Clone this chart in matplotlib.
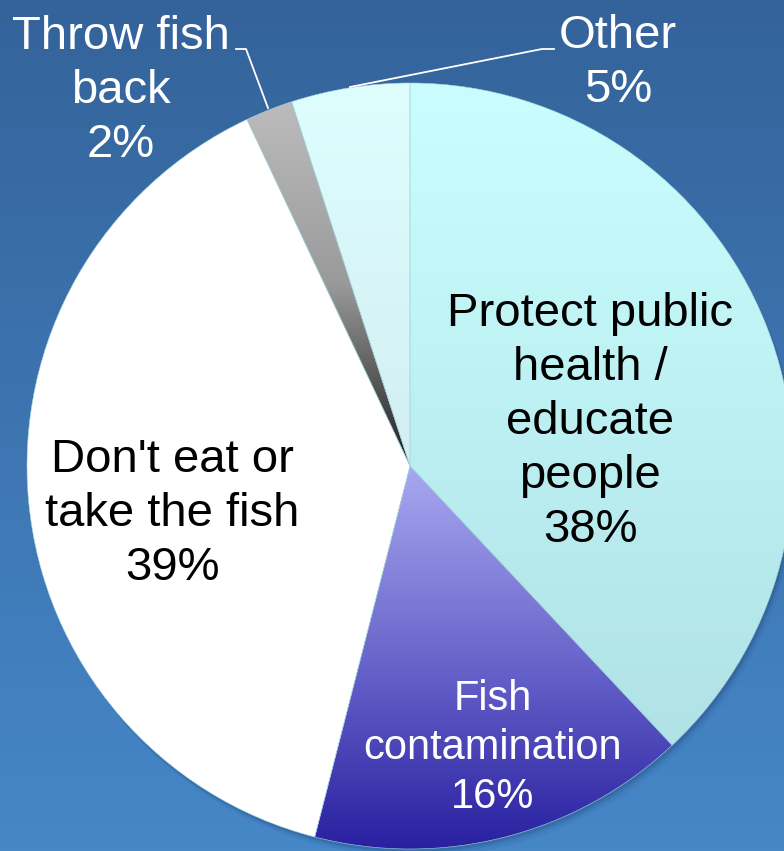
import numpy as np
import matplotlib.pyplot as plt
from matplotlib.colors import to_rgb
from matplotlib.patches import Circle

plt.rcParams['font.family'] = ['Liberation Sans', 'DejaVu Sans']

# slices, clockwise from 12 o'clock
labels = ["Protect public\nhealth /\neducate\npeople", "Fish\ncontamination",
          "Don't eat or\ntake the fish", "Throw fish\nback", "Other"]
values = [38, 16, 39, 2, 5]
top_colors = ["#cafefe", "#a8a8f0", "#ffffff", "#bcbcbc", "#defefe"]
mid_colors = ["#bdf0f2", "#6a66cc", "#ffffff", "#9a9a9a", "#d8f6f8"]
bottom_colors = ["#b0e2e6", "#2820a0", "#ffffff", "#1e1e1e", "#d2eef0"]

W, H = 784, 851
cx, cy, R = 410, H - 466, 383


def vgrad(c_bottom, c_mid, c_top, n=256):
    b, m, t = (np.array(to_rgb(c)) for c in (c_bottom, c_mid, c_top))
    f = np.linspace(0, 1, n)[:, None]
    lo = b + (m - b) * np.clip(f * 2, 0, 1)
    hi = m + (t - m) * np.clip(f * 2 - 1, 0, 1)
    return np.where(f < 0.5, lo, hi)[:, None, :]


fig = plt.figure(figsize=(W / 100, H / 100), dpi=100)
ax = fig.add_axes([0, 0, 1, 1])
ax.set_xlim(0, W)
ax.set_ylim(0, H)
ax.axis('off')

# background
ax.imshow(vgrad("#4687c8", "#3d75b1", "#34639a"), extent=(0, W, 0, H),
          origin='lower', aspect='auto', zorder=0)

# soft shadow under the pie, lower right
for k, a in [(8, 0.08), (5, 0.12), (3, 0.18)]:
    ax.add_patch(Circle((cx + k * 0.6, cy - k), R, color="#1c3f70", alpha=a,
                        lw=0, zorder=1))

wedges, _ = ax.pie(values, center=(cx, cy), radius=R, startangle=90,
                   counterclock=False, colors=bottom_colors,
                   wedgeprops=dict(edgecolor="#a6d6de", linewidth=0.4))
ax.set_xlim(0, W)
ax.set_ylim(0, H)

for w, ct, cm, cb in zip(wedges, top_colors, mid_colors, bottom_colors):
    bb = w.get_path().get_extents()
    im = ax.imshow(vgrad(cb, cm, ct), extent=(bb.x0, bb.x1, bb.y0, bb.y1),
                   origin='lower', aspect='auto', zorder=2)
    im.set_clip_path(w)
    w.set_facecolor('none')
    w.set_zorder(3)

# percentages
pct = [f"{v}%" for v in values]

# labels inside the pie
ax.text(590, H - 422, labels[0] + "\n" + pct[0], ha='center', va='center',
        fontsize=34, color='black', linespacing=1.3, zorder=5)
ax.text(493, H - 748, labels[1] + "\n" + pct[1], ha='center', va='center',
        fontsize=30, color='white', linespacing=1.3, zorder=5)
ax.text(172, H - 514, labels[2] + "\n" + pct[2], ha='center', va='center',
        fontsize=34, color='black', linespacing=1.3, zorder=5)

# labels outside with leader lines
ax.text(121, H - 91, labels[3] + "\n" + pct[3], ha='center', va='center',
        fontsize=34, color='white', linespacing=1.3, zorder=5)
ax.text(618, H - 63, labels[4] + "\n" + pct[4], ha='center', va='center',
        fontsize=34, color='white', linespacing=1.3, zorder=5)
ax.plot([236, 246, 268], [H - 49, H - 49, H - 108], color='white', lw=1.3, zorder=4)
ax.plot([554, 542, 350], [H - 49, H - 49, H - 87], color='white', lw=1.3, zorder=4)

fig.savefig("out.png", dpi=100)
